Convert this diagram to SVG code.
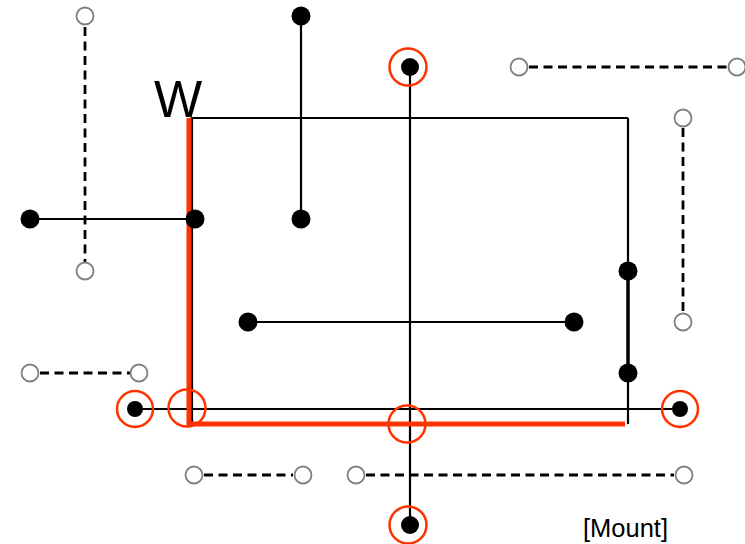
<svg xmlns="http://www.w3.org/2000/svg" width="745" height="544" viewBox="0 0 745 544">
<style>
.ln{stroke:#000;stroke-width:2.2;fill:none}
.dl{stroke:#000;stroke-width:2.8;stroke-dasharray:9 5.5;fill:none}
.red{stroke:#FF3300;stroke-width:5;fill:none}
.dot{fill:#000}
.od{fill:#fff;stroke:#808080;stroke-width:1.8}
.rc{fill:none;stroke:#FF3300;stroke-width:2.5}
.t{font-family:"Liberation Sans",Arial,sans-serif;fill:#000}
</style>
<rect width="745" height="544" fill="#fff"/>
<g id="connectors">
<path class="dl" d="M85,27V262"/>
<path class="dl" d="M529,67H727"/>
<path class="dl" d="M683,128V312"/>
<path class="dl" d="M40,373H130"/>
<path class="dl" d="M204,475H293"/>
<path class="dl" d="M366,475H674"/>
<path class="ln" d="M628,118H192V424"/>
<path class="ln" d="M628,118V271"/>
<path class="ln" d="M628,373V424"/>
<path d="M628,271V373" stroke="#000" stroke-width="3.5"/>
<path class="ln" d="M30,219H195"/>
<path class="ln" d="M301,16V219"/>
<path class="ln" d="M410,67V525"/>
<path class="ln" d="M248,322H574"/>
<path class="ln" d="M135,409H680"/>
<path class="red" d="M189,118V424H625"/>
</g>
<g id="open-nodes">
<circle class="od" cx="85" cy="16" r="8.5"/>
<circle class="od" cx="85" cy="271" r="8.5"/>
<circle class="od" cx="519" cy="67" r="8.5"/>
<circle class="od" cx="737" cy="67" r="8.5"/>
<circle class="od" cx="683" cy="118" r="8.5"/>
<circle class="od" cx="683" cy="322" r="8.5"/>
<circle class="od" cx="30" cy="373" r="8.5"/>
<circle class="od" cx="139" cy="373" r="8.5"/>
<circle class="od" cx="194" cy="475" r="8.5"/>
<circle class="od" cx="303" cy="475" r="8.5"/>
<circle class="od" cx="356" cy="475" r="8.5"/>
<circle class="od" cx="684" cy="475" r="8.5"/>
</g>
<g id="dots">
<circle class="dot" cx="30" cy="219" r="9.5"/>
<circle class="dot" cx="195" cy="219" r="9.5"/>
<circle class="dot" cx="301" cy="16" r="9.5"/>
<circle class="dot" cx="301" cy="219" r="9.5"/>
<circle class="dot" cx="410" cy="67" r="9"/>
<circle class="dot" cx="248" cy="322" r="9.5"/>
<circle class="dot" cx="574" cy="322" r="9.5"/>
<circle class="dot" cx="628" cy="271" r="9.5"/>
<circle class="dot" cx="628" cy="373" r="9.5"/>
<circle class="dot" cx="135" cy="409" r="8"/>
<circle class="dot" cx="680" cy="409" r="8"/>
<circle class="dot" cx="410" cy="525" r="9"/>
</g>
<g id="markers">
<circle class="rc" cx="408" cy="67" r="18.5"/>
<circle class="rc" cx="135" cy="409" r="18"/>
<circle class="rc" cx="187" cy="408" r="18.5"/>
<circle class="rc" cx="407" cy="424" r="18.5"/>
<circle class="rc" cx="680" cy="409" r="18"/>
<circle class="rc" cx="408" cy="525" r="18.5"/>
</g>
<g id="labels">
<text class="t" x="154" y="117" font-size="51">W</text>
<text class="t" x="583" y="537" font-size="25.5">[Mount]</text>
</g>
</svg>
